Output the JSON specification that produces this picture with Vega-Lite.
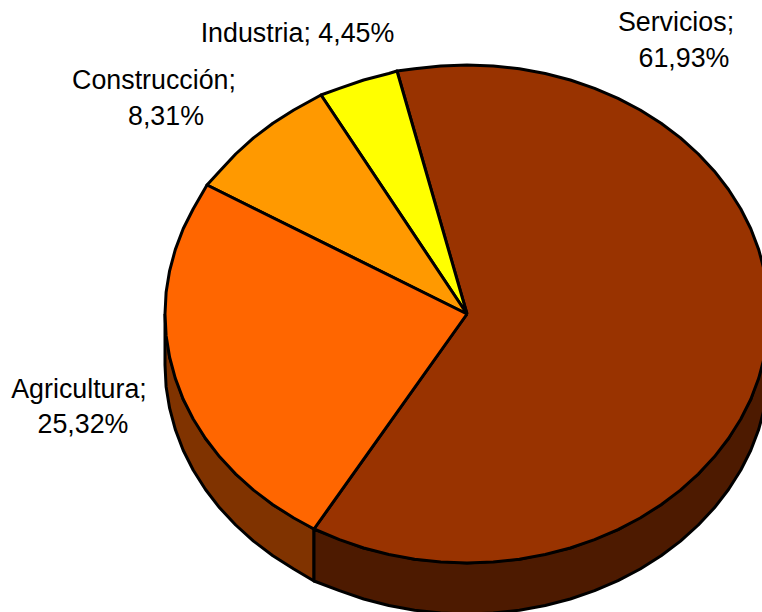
{"$schema":"https://vega.github.io/schema/vega-lite/v6.json","width":762,"height":612,"padding":0,"autosize":"none","background":"white","view":{"stroke":null},
"layer":[
{"data":{"values":[
{"s":"Agricultura lado","i":0,"x":165,"y":314},{"s":"Agricultura lado","i":1,"x":169.6,"y":357.2},{"s":"Agricultura lado","i":2,"x":183.2,"y":399.2},{"s":"Agricultura lado","i":3,"x":205.5,"y":438.5},{"s":"Agricultura lado","i":4,"x":235.7,"y":474},{"s":"Agricultura lado","i":5,"x":272.9,"y":504.7},{"s":"Agricultura lado","i":6,"x":314,"y":529},{"s":"Agricultura lado","i":7,"x":314,"y":581},{"s":"Agricultura lado","i":8,"x":293.8,"y":569},{"s":"Agricultura lado","i":9,"x":272.9,"y":555.7},{"s":"Agricultura lado","i":10,"x":253.5,"y":541.1},{"s":"Agricultura lado","i":11,"x":235.7,"y":525},{"s":"Agricultura lado","i":12,"x":219.6,"y":507.8},{"s":"Agricultura lado","i":13,"x":205.5,"y":489.5},{"s":"Agricultura lado","i":14,"x":193.3,"y":470.2},{"s":"Agricultura lado","i":15,"x":183.2,"y":450.2},{"s":"Agricultura lado","i":16,"x":175.3,"y":429.4},{"s":"Agricultura lado","i":17,"x":169.6,"y":408.2},{"s":"Agricultura lado","i":18,"x":166.1,"y":386.7},{"s":"Agricultura lado","i":19,"x":165,"y":365},{"s":"Agricultura lado","i":20,"x":165,"y":314},
{"s":"Servicios lado","i":0,"x":314,"y":529},{"s":"Servicios lado","i":1,"x":363.7,"y":548},{"s":"Servicios lado","i":2,"x":414.6,"y":559.2},{"s":"Servicios lado","i":3,"x":467,"y":563},{"s":"Servicios lado","i":4,"x":519.4,"y":559.2},{"s":"Servicios lado","i":5,"x":570.3,"y":548},{"s":"Servicios lado","i":6,"x":618,"y":529.6},{"s":"Servicios lado","i":7,"x":661.1,"y":504.7},{"s":"Servicios lado","i":8,"x":698.3,"y":474},{"s":"Servicios lado","i":9,"x":728.5,"y":438.5},{"s":"Servicios lado","i":10,"x":750.8,"y":399.2},{"s":"Servicios lado","i":11,"x":764.4,"y":357.2},{"s":"Servicios lado","i":12,"x":769,"y":314},{"s":"Servicios lado","i":13,"x":769,"y":365},{"s":"Servicios lado","i":14,"x":767.9,"y":386.7},{"s":"Servicios lado","i":15,"x":764.4,"y":408.2},{"s":"Servicios lado","i":16,"x":758.7,"y":429.4},{"s":"Servicios lado","i":17,"x":750.8,"y":450.2},{"s":"Servicios lado","i":18,"x":740.7,"y":470.2},{"s":"Servicios lado","i":19,"x":728.5,"y":489.5},{"s":"Servicios lado","i":20,"x":714.4,"y":507.8},{"s":"Servicios lado","i":21,"x":698.3,"y":525},{"s":"Servicios lado","i":22,"x":680.5,"y":541.1},{"s":"Servicios lado","i":23,"x":661.1,"y":555.7},{"s":"Servicios lado","i":24,"x":640.2,"y":569},{"s":"Servicios lado","i":25,"x":618,"y":580.6},{"s":"Servicios lado","i":26,"x":594.6,"y":590.7},{"s":"Servicios lado","i":27,"x":570.3,"y":599},{"s":"Servicios lado","i":28,"x":545.2,"y":605.5},{"s":"Servicios lado","i":29,"x":519.4,"y":610.2},{"s":"Servicios lado","i":30,"x":493.3,"y":613.1},{"s":"Servicios lado","i":31,"x":467,"y":614},{"s":"Servicios lado","i":32,"x":440.7,"y":613.1},{"s":"Servicios lado","i":33,"x":414.6,"y":610.2},{"s":"Servicios lado","i":34,"x":388.8,"y":605.5},{"s":"Servicios lado","i":35,"x":363.7,"y":599},{"s":"Servicios lado","i":36,"x":339.4,"y":590.7},{"s":"Servicios lado","i":37,"x":314,"y":581},{"s":"Servicios lado","i":38,"x":314,"y":529},
{"s":"Servicios","i":0,"x":467,"y":314},{"s":"Servicios","i":1,"x":397,"y":71},{"s":"Servicios","i":2,"x":414.6,"y":68.8},{"s":"Servicios","i":3,"x":440.7,"y":65.9},{"s":"Servicios","i":4,"x":467,"y":65},{"s":"Servicios","i":5,"x":493.3,"y":65.9},{"s":"Servicios","i":6,"x":519.4,"y":68.8},{"s":"Servicios","i":7,"x":545.2,"y":73.5},{"s":"Servicios","i":8,"x":570.3,"y":80},{"s":"Servicios","i":9,"x":594.6,"y":88.3},{"s":"Servicios","i":10,"x":618,"y":98.4},{"s":"Servicios","i":11,"x":640.2,"y":110},{"s":"Servicios","i":12,"x":661.1,"y":123.3},{"s":"Servicios","i":13,"x":680.5,"y":137.9},{"s":"Servicios","i":14,"x":698.3,"y":154},{"s":"Servicios","i":15,"x":714.4,"y":171.2},{"s":"Servicios","i":16,"x":728.5,"y":189.5},{"s":"Servicios","i":17,"x":740.7,"y":208.8},{"s":"Servicios","i":18,"x":750.8,"y":228.8},{"s":"Servicios","i":19,"x":758.7,"y":249.6},{"s":"Servicios","i":20,"x":764.4,"y":270.8},{"s":"Servicios","i":21,"x":767.9,"y":292.3},{"s":"Servicios","i":22,"x":769,"y":314},{"s":"Servicios","i":23,"x":767.9,"y":335.7},{"s":"Servicios","i":24,"x":764.4,"y":357.2},{"s":"Servicios","i":25,"x":758.7,"y":378.4},{"s":"Servicios","i":26,"x":750.8,"y":399.2},{"s":"Servicios","i":27,"x":740.7,"y":419.2},{"s":"Servicios","i":28,"x":728.5,"y":438.5},{"s":"Servicios","i":29,"x":714.4,"y":456.8},{"s":"Servicios","i":30,"x":698.3,"y":474},{"s":"Servicios","i":31,"x":680.5,"y":490.1},{"s":"Servicios","i":32,"x":661.1,"y":504.7},{"s":"Servicios","i":33,"x":640.2,"y":518},{"s":"Servicios","i":34,"x":618,"y":529.6},{"s":"Servicios","i":35,"x":594.6,"y":539.7},{"s":"Servicios","i":36,"x":570.3,"y":548},{"s":"Servicios","i":37,"x":545.2,"y":554.5},{"s":"Servicios","i":38,"x":519.4,"y":559.2},{"s":"Servicios","i":39,"x":493.3,"y":562.1},{"s":"Servicios","i":40,"x":467,"y":563},{"s":"Servicios","i":41,"x":440.7,"y":562.1},{"s":"Servicios","i":42,"x":414.6,"y":559.2},{"s":"Servicios","i":43,"x":388.8,"y":554.5},{"s":"Servicios","i":44,"x":363.7,"y":548},{"s":"Servicios","i":45,"x":339.4,"y":539.7},{"s":"Servicios","i":46,"x":314,"y":529},{"s":"Servicios","i":47,"x":467,"y":314},
{"s":"Industria","i":0,"x":467,"y":314},{"s":"Industria","i":1,"x":321,"y":95},{"s":"Industria","i":2,"x":339.4,"y":88.3},{"s":"Industria","i":3,"x":363.7,"y":80},{"s":"Industria","i":4,"x":388.8,"y":73.5},{"s":"Industria","i":5,"x":397,"y":71},{"s":"Industria","i":6,"x":467,"y":314},
{"s":"Construcción","i":0,"x":467,"y":314},{"s":"Construcción","i":1,"x":207,"y":185},{"s":"Construcción","i":2,"x":219.6,"y":171.2},{"s":"Construcción","i":3,"x":235.7,"y":154},{"s":"Construcción","i":4,"x":253.5,"y":137.9},{"s":"Construcción","i":5,"x":272.9,"y":123.3},{"s":"Construcción","i":6,"x":293.8,"y":110},{"s":"Construcción","i":7,"x":321,"y":95},{"s":"Construcción","i":8,"x":467,"y":314},
{"s":"Agricultura","i":0,"x":467,"y":314},{"s":"Agricultura","i":1,"x":314,"y":529},{"s":"Agricultura","i":2,"x":293.8,"y":518},{"s":"Agricultura","i":3,"x":272.9,"y":504.7},{"s":"Agricultura","i":4,"x":253.5,"y":490.1},{"s":"Agricultura","i":5,"x":235.7,"y":474},{"s":"Agricultura","i":6,"x":219.6,"y":456.8},{"s":"Agricultura","i":7,"x":205.5,"y":438.5},{"s":"Agricultura","i":8,"x":193.3,"y":419.2},{"s":"Agricultura","i":9,"x":183.2,"y":399.2},{"s":"Agricultura","i":10,"x":175.3,"y":378.4},{"s":"Agricultura","i":11,"x":169.6,"y":357.2},{"s":"Agricultura","i":12,"x":166.1,"y":335.7},{"s":"Agricultura","i":13,"x":165,"y":314},{"s":"Agricultura","i":14,"x":166.1,"y":292.3},{"s":"Agricultura","i":15,"x":169.6,"y":270.8},{"s":"Agricultura","i":16,"x":175.3,"y":249.6},{"s":"Agricultura","i":17,"x":183.2,"y":228.8},{"s":"Agricultura","i":18,"x":193.3,"y":208.8},{"s":"Agricultura","i":19,"x":207,"y":185},{"s":"Agricultura","i":20,"x":467,"y":314}
]},
"mark":{"type":"line","stroke":"#000000","strokeWidth":3,"strokeJoin":"round","clip":true,"interpolate":"linear"},
"encoding":{
"x":{"field":"x","type":"quantitative","scale":{"domain":[0,762],"nice":false,"zero":false},"axis":null},
"y":{"field":"y","type":"quantitative","scale":{"domain":[612,0],"nice":false,"zero":false},"axis":null},
"order":{"field":"i","type":"quantitative"},
"detail":{"field":"s","type":"nominal"},
"fill":{"field":"s","type":"nominal","legend":null,"scale":{"domain":["Agricultura lado","Servicios lado","Servicios","Industria","Construcción","Agricultura"],"range":["#803300","#4D1A00","#993300","#FFFF00","#FF9900","#FF6600"]}}
}},
{"data":{"values":[
{"t":"Servicios;","x":676,"y":23},{"t":"61,93%","x":684,"y":59},{"t":"Industria; 4,45%","x":297.5,"y":34},{"t":"Construcción;","x":154,"y":81},{"t":"8,31%","x":166,"y":117},{"t":"Agricultura;","x":79,"y":390},{"t":"25,32%","x":83,"y":425}
]},
"mark":{"type":"text","font":"Liberation Sans","fontSize":26.8,"color":"#000000","align":"center","baseline":"middle"},
"encoding":{
"x":{"field":"x","type":"quantitative","scale":{"domain":[0,762],"nice":false,"zero":false},"axis":null},
"y":{"field":"y","type":"quantitative","scale":{"domain":[612,0],"nice":false,"zero":false},"axis":null},
"text":{"field":"t","type":"nominal"}
}}
]}
